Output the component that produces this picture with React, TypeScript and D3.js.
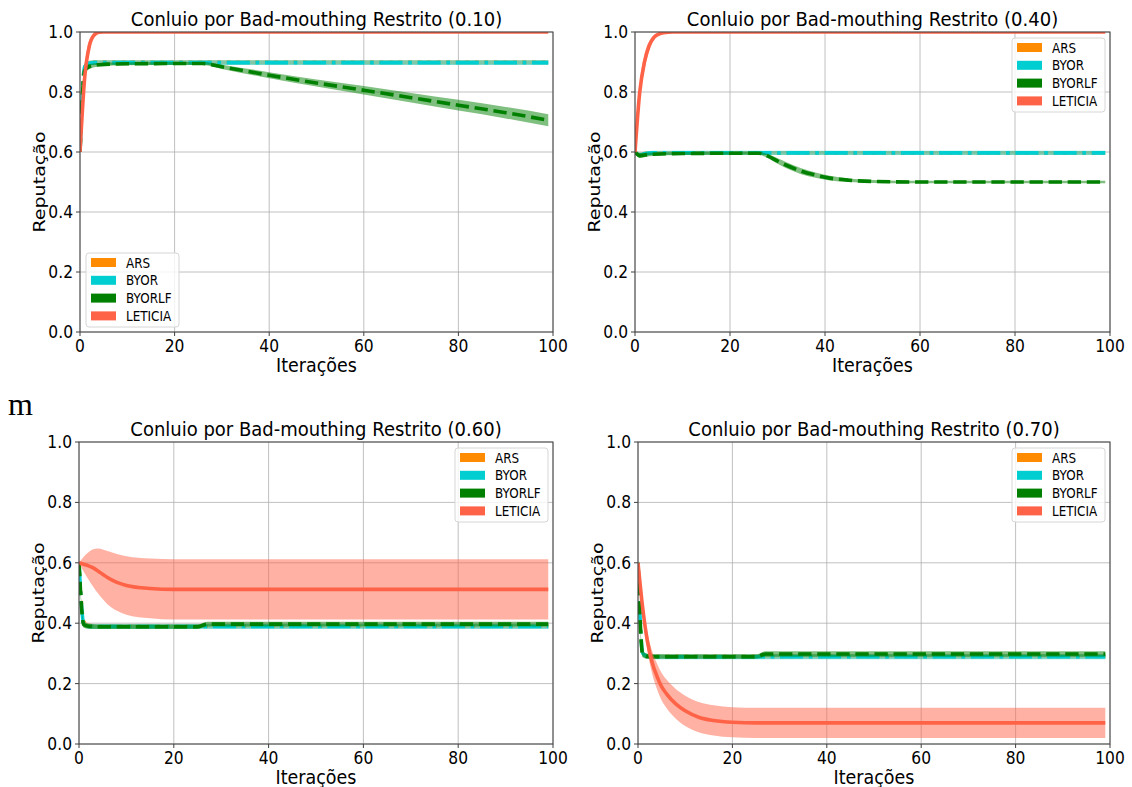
import React, { useEffect, useRef } from "react";
import * as d3 from "d3";

type Pt = [number, number, number]; // [iteration, mean, std]

const seriesNames = ["ARS", "BYOR", "BYORLF", "LETICIA"];
const panelTitles = [
  "Conluio por Bad-mouthing Restrito (0.10)",
  "Conluio por Bad-mouthing Restrito (0.40)",
  "Conluio por Bad-mouthing Restrito (0.60)",
  "Conluio por Bad-mouthing Restrito (0.70)",
];
const xTicks = [0, 20, 40, 60, 80, 100];
const yTicks = [0, 0.2, 0.4, 0.6, 0.8, 1.0];
const xLabel = "Iterações";
const yLabel = "Reputação";
const strayText = "m";

// Panel 1 (0.10)
const p1ARS: Pt[] = [[0, 0.6, 0], [1, 0.885, 0.012], [2, 0.896, 0.008], [3, 0.899, 0.007], [99, 0.899, 0.007]];
const p1BYOR: Pt[] = [[0, 0.6, 0], [1, 0.885, 0.012], [2, 0.896, 0.008], [3, 0.898, 0.008], [99, 0.898, 0.008]];
const p1BYORLF: Pt[] = [[0, 0.6, 0], [1, 0.872, 0.012], [2, 0.885, 0.008], [4, 0.891, 0.006], [10, 0.894, 0.005], [26, 0.895, 0.005], [30, 0.884, 0.007], [40, 0.856, 0.01], [50, 0.83, 0.012], [60, 0.806, 0.014], [70, 0.781, 0.016], [80, 0.756, 0.018], [90, 0.731, 0.019], [99, 0.706, 0.02]];
const p1LETICIA: Pt[] = [[0, 0.6, 0], [1, 0.85, 0.03], [2, 0.955, 0.02], [3, 0.99, 0.006], [4, 0.999, 0.001], [5, 1, 0], [99, 1, 0]];

// Panel 2 (0.40)
const p2ARS: Pt[] = [[0, 0.6, 0], [1, 0.59, 0.008], [2, 0.594, 0.007], [4, 0.597, 0.006], [99, 0.597, 0.006]];
const p2BYOR: Pt[] = [[0, 0.6, 0], [1, 0.59, 0.008], [2, 0.594, 0.007], [4, 0.597, 0.007], [99, 0.597, 0.007]];
const p2BYORLF: Pt[] = [[0, 0.6, 0], [1, 0.588, 0.008], [3, 0.592, 0.006], [10, 0.595, 0.005], [26, 0.596, 0.005], [28, 0.586, 0.007], [30, 0.57, 0.009], [32, 0.555, 0.01], [35, 0.536, 0.01], [38, 0.523, 0.009], [41, 0.513, 0.008], [45, 0.506, 0.006], [50, 0.502, 0.005], [60, 0.5, 0.004], [99, 0.5, 0.004]];
const p2LETICIA: Pt[] = [[0, 0.6, 0], [1, 0.8, 0.03], [2, 0.9, 0.025], [3, 0.955, 0.015], [4, 0.982, 0.008], [5, 0.993, 0.004], [6, 0.998, 0.002], [8, 1, 0], [99, 1, 0]];

// Panel 3 (0.60)
const p3ARS: Pt[] = [[0, 0.6, 0], [1, 0.405, 0.01], [2, 0.392, 0.008], [4, 0.39, 0.007], [99, 0.39, 0.007]];
const p3BYOR: Pt[] = [[0, 0.6, 0], [1, 0.4, 0.01], [2, 0.39, 0.008], [4, 0.389, 0.008], [99, 0.389, 0.008]];
const p3BYORLF: Pt[] = [[0, 0.6, 0], [1, 0.395, 0.01], [2, 0.39, 0.008], [4, 0.388, 0.007], [25, 0.388, 0.007], [27, 0.397, 0.008], [99, 0.397, 0.008]];
const p3LETICIA: Pt[] = [[0, 0.6, 0], [1, 0.595, 0.025], [2, 0.59, 0.045], [3, 0.583, 0.062], [4, 0.573, 0.074], [5, 0.562, 0.082], [6, 0.551, 0.088], [8, 0.535, 0.094], [10, 0.525, 0.097], [15, 0.515, 0.099], [20, 0.512, 0.1], [99, 0.512, 0.1]];

// Panel 4 (0.70)
const p4ARS: Pt[] = [[0, 0.6, 0], [1, 0.3, 0.01], [2, 0.292, 0.008], [4, 0.29, 0.007], [99, 0.29, 0.007]];
const p4BYOR: Pt[] = [[0, 0.6, 0], [1, 0.3, 0.01], [2, 0.291, 0.008], [4, 0.289, 0.008], [99, 0.289, 0.008]];
const p4BYORLF: Pt[] = [[0, 0.6, 0], [1, 0.297, 0.01], [2, 0.29, 0.008], [4, 0.289, 0.007], [25, 0.289, 0.007], [27, 0.298, 0.009], [99, 0.298, 0.009]];
const p4LETICIA: Pt[] = [[0, 0.6, 0], [1, 0.45, 0.02], [2, 0.34, 0.03], [3, 0.27, 0.037], [4, 0.225, 0.042], [5, 0.19, 0.045], [6, 0.167, 0.047], [8, 0.133, 0.049], [10, 0.11, 0.05], [13, 0.088, 0.05], [16, 0.078, 0.05], [20, 0.072, 0.05], [25, 0.07, 0.05], [99, 0.07, 0.05]];

const panelData: Pt[][][] = [
  [p1ARS, p1BYOR, p1BYORLF, p1LETICIA],
  [p2ARS, p2BYOR, p2BYORLF, p2LETICIA],
  [p3ARS, p3BYOR, p3BYORLF, p3LETICIA],
  [p4ARS, p4BYOR, p4BYORLF, p4LETICIA],
];

const colors = ["#ff8c00", "#00ced1", "#008000", "#ff6347"];
const LW = 3.6;
const dashes = [`${LW * 1},${LW * 1.65}`, `${LW * 6.4},${LW * 1.6},${LW},${LW * 1.6}`, `${LW * 3.7},${LW * 1.6}`, null];

const layout = [
  { left: 80, right: 553, top: 32, bottom: 332, legend: "ll" },
  { left: 635, right: 1110, top: 32, bottom: 332, legend: "ur" },
  { left: 79, right: 553, top: 442, bottom: 744, legend: "ur" },
  { left: 638, right: 1110, top: 442, bottom: 744, legend: "ur" },
];

const FONT = "DejaVu Sans, sans-serif";

export default function App() {
  const ref = useRef<SVGSVGElement>(null);
  useEffect(() => {
    const svg = d3.select(ref.current);
    svg.selectAll("*").remove();
    svg.append("rect").attr("width", 1132).attr("height", 787).attr("fill", "#fff");

    svg.append("text").attr("x", 8).attr("y", 415).attr("font-family", "Liberation Serif, serif").attr("font-size", 32).attr("fill", "#000").text(strayText);

    const stext = (parent: any, px: number, py: number, size: number, sy: number, anchor: string, s: string) =>
      parent.append("text").attr("transform", `translate(${px},${py}) scale(1,${sy})`).attr("text-anchor", anchor)
        .attr("font-family", FONT).attr("font-size", size).attr("fill", "#000").text(s);

    layout.forEach((L, pi) => {
      const x = d3.scaleLinear().domain([0, 100]).range([L.left, L.right]);
      const y = d3.scaleLinear().domain([0, 1]).range([L.bottom, L.top]);
      const g = svg.append("g");
      const clipId = `clip${pi}`;
      g.append("clipPath").attr("id", clipId).append("rect")
        .attr("x", L.left).attr("y", L.top).attr("width", L.right - L.left).attr("height", L.bottom - L.top);

      // grid
      g.selectAll(".gx").data(xTicks).join("line").attr("class", "gx")
        .attr("x1", (d) => x(d)).attr("x2", (d) => x(d)).attr("y1", L.top).attr("y2", L.bottom)
        .attr("stroke", "#b0b0b0").attr("stroke-width", 0.8);
      g.selectAll(".gy").data(yTicks).join("line").attr("class", "gy")
        .attr("y1", (d) => y(d)).attr("y2", (d) => y(d)).attr("x1", L.left).attr("x2", L.right)
        .attr("stroke", "#b0b0b0").attr("stroke-width", 0.8);

      const dg = g.append("g").attr("clip-path", `url(#${clipId})`);
      panelData[pi].forEach((pts, si) => {
        const area = d3.area<Pt>().x((d) => x(d[0])).y0((d) => y(d[1] - d[2])).y1((d) => y(d[1] + d[2])).curve(d3.curveMonotoneX);
        const line = d3.line<Pt>().x((d) => x(d[0])).y((d) => y(d[1])).curve(d3.curveMonotoneX);
        dg.append("path").attr("d", area(pts)).attr("fill", colors[si]).attr("fill-opacity", 0.5);
        const p = dg.append("path").attr("d", line(pts)).attr("fill", "none").attr("stroke", colors[si]).attr("stroke-width", LW);
        if (dashes[si]) p.attr("stroke-dasharray", dashes[si]);
      });

      // spines
      g.append("rect").attr("x", L.left).attr("y", L.top).attr("width", L.right - L.left).attr("height", L.bottom - L.top)
        .attr("fill", "none").attr("stroke", "#404040").attr("stroke-width", 1);

      // ticks
      g.selectAll(".tx").data(xTicks).join("line").attr("class", "tx")
        .attr("x1", (d) => x(d)).attr("x2", (d) => x(d)).attr("y1", L.bottom).attr("y2", L.bottom + 4)
        .attr("stroke", "#404040");
      g.selectAll(".ty").data(yTicks).join("line").attr("class", "ty")
        .attr("y1", (d) => y(d)).attr("y2", (d) => y(d)).attr("x1", L.left - 4).attr("x2", L.left)
        .attr("stroke", "#404040");
      xTicks.forEach((t) => stext(g, x(t), L.bottom + 20, 15.5, 1.1, "middle", String(t)));
      yTicks.forEach((t) => stext(g, L.left - 7, y(t) + 6, 15.5, 1.1, "end", t.toFixed(1)));

      // labels
      const cx = (L.left + L.right) / 2;
      const cy = (L.top + L.bottom) / 2;
      stext(g, cx, L.top - 6, 18, 1.03, "middle", panelTitles[pi]);
      stext(g, cx, L.bottom + 40, 17.5, 1.08, "middle", xLabel);
      g.append("text").attr("transform", `translate(${L.left - 35},${cy}) rotate(-90) scale(1.12,0.95)`).attr("text-anchor", "middle")
        .attr("font-family", FONT).attr("font-size", 17).attr("fill", "#000").text(yLabel);

      // legend
      const bw = 93, bh = 74;
      const bx = L.legend === "ur" ? L.right - 5 - bw : L.left + 6;
      const by = L.legend === "ur" ? L.top + 6 : L.bottom - 5 - bh;
      const lg = g.append("g");
      lg.append("rect").attr("x", bx).attr("y", by).attr("width", bw).attr("height", bh).attr("rx", 3)
        .attr("fill", "#fff").attr("fill-opacity", 0.8).attr("stroke", "#d6d6d6").attr("stroke-width", 1);
      seriesNames.forEach((name, i) => {
        const ry = by + 9.5 + 17.8 * i;
        lg.append("rect").attr("x", bx + 5).attr("y", ry - 4.5).attr("width", 25).attr("height", 9).attr("fill", colors[i]);
        stext(lg, bx + 40, ry + 5, 12, 1.12, "start", name);
      });
    });
  }, []);
  return (
    <div style={{ position: "absolute", left: 0, top: 0 }}>
      <svg ref={ref} width={1132} height={787} style={{ display: "block" }} />
    </div>
  );
}
